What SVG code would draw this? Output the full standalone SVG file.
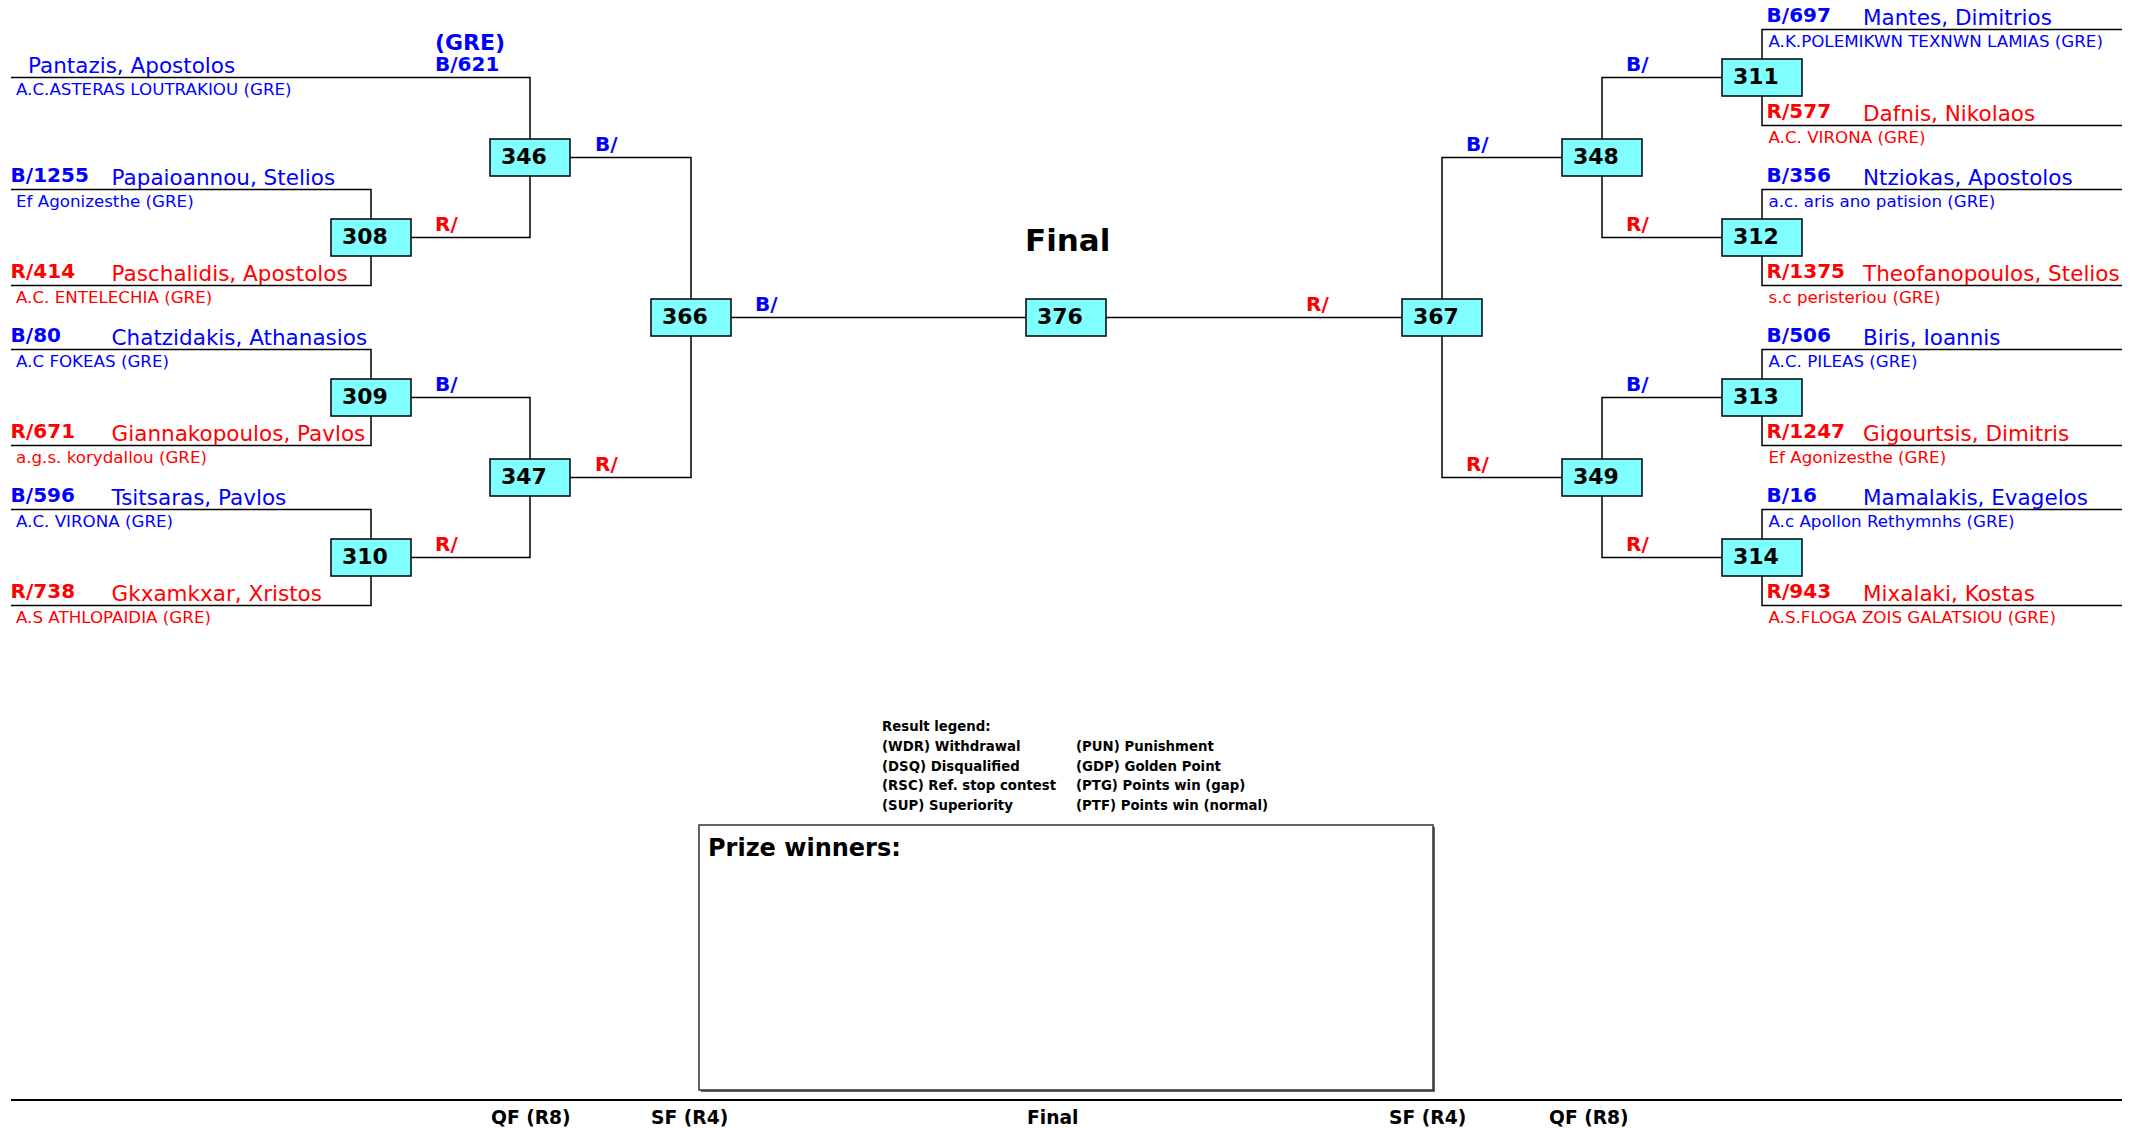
<svg xmlns="http://www.w3.org/2000/svg" width="2138" height="1128" viewBox="0 0 2138 1128">
<style>
text{font-family:"DejaVu Sans",Verdana,sans-serif}
.box{fill:#80FFFF;stroke:#000;stroke-width:1.5}
.num{font-size:22px;font-weight:bold;fill:#000}
.ln{fill:none;stroke:#000;stroke-width:1.5}
.lb{font-size:20px;font-weight:bold}
.nm{font-size:21.5px}
.cl{font-size:16.7px}
.b{fill:#0000FF}
.r{fill:#FF0000}
.lg{font-size:13.3px;font-weight:bold;fill:#000}
.ft{font-size:18.7px;font-weight:bold;fill:#000}
</style>
<rect width="2138" height="1128" fill="#fff"/>
<g id="connectors">
<path class="ln" d="M11,77.5H530V139"/>
<path class="ln" d="M11,189.5H371V219M11,285.5H371V256"/>
<path class="ln" d="M11,349.5H371V379M11,445.5H371V416"/>
<path class="ln" d="M11,509.5H371V539M11,605.5H371V576"/>
<path class="ln" d="M411,237.5H530V176M411,397.5H530V459M411,557.5H530V496"/>
<path class="ln" d="M570,157.5H691V299M570,477.5H691V336"/>
<path class="ln" d="M731,317.5H1026M1106,317.5H1402"/>
<path class="ln" d="M1562,157.5H1442V299M1562,477.5H1442V336"/>
<path class="ln" d="M1722,77.5H1602V139M1722,237.5H1602V176M1722,397.5H1602V459M1722,557.5H1602V496"/>
<path class="ln" d="M2122,29.5H1762V59M2122,125.5H1762V96"/>
<path class="ln" d="M2122,189.5H1762V219M2122,285.5H1762V256"/>
<path class="ln" d="M2122,349.5H1762V379M2122,445.5H1762V416"/>
<path class="ln" d="M2122,509.5H1762V539M2122,605.5H1762V576"/>
<text class="lb b" x="595" y="151">B/</text>
<text class="lb r" x="435" y="231">R/</text>
<text class="lb b" x="435" y="391">B/</text>
<text class="lb r" x="435" y="551">R/</text>
<text class="lb r" x="595" y="471">R/</text>
<text class="lb b" x="755" y="311">B/</text>
<text class="lb r" x="1306" y="311">R/</text>
<text class="lb b" x="1466" y="151">B/</text>
<text class="lb r" x="1466" y="471">R/</text>
<text class="lb b" x="1626" y="71">B/</text>
<text class="lb r" x="1626" y="231">R/</text>
<text class="lb b" x="1626" y="391">B/</text>
<text class="lb r" x="1626" y="551">R/</text>
</g>
<g id="n346"><rect class="box" x="490" y="139" width="80" height="37"/><text class="num" x="501" y="164">346</text></g>
<g id="n347"><rect class="box" x="490" y="459" width="80" height="37"/><text class="num" x="501" y="484">347</text></g>
<g id="n308"><rect class="box" x="331" y="219" width="80" height="37"/><text class="num" x="342" y="244">308</text></g>
<g id="n309"><rect class="box" x="331" y="379" width="80" height="37"/><text class="num" x="342" y="404">309</text></g>
<g id="n310"><rect class="box" x="331" y="539" width="80" height="37"/><text class="num" x="342" y="564">310</text></g>
<g id="n366"><rect class="box" x="651" y="299" width="80" height="37"/><text class="num" x="662" y="324">366</text></g>
<g id="n376"><rect class="box" x="1026" y="299" width="80" height="37"/><text class="num" x="1037" y="324">376</text></g>
<g id="n367"><rect class="box" x="1402" y="299" width="80" height="37"/><text class="num" x="1413" y="324">367</text></g>
<g id="n348"><rect class="box" x="1562" y="139" width="80" height="37"/><text class="num" x="1573" y="164">348</text></g>
<g id="n349"><rect class="box" x="1562" y="459" width="80" height="37"/><text class="num" x="1573" y="484">349</text></g>
<g id="n311"><rect class="box" x="1722" y="59" width="80" height="37"/><text class="num" x="1733" y="84">311</text></g>
<g id="n312"><rect class="box" x="1722" y="219" width="80" height="37"/><text class="num" x="1733" y="244">312</text></g>
<g id="n313"><rect class="box" x="1722" y="379" width="80" height="37"/><text class="num" x="1733" y="404">313</text></g>
<g id="n314"><rect class="box" x="1722" y="539" width="80" height="37"/><text class="num" x="1733" y="564">314</text></g>
<g id="competitors-left">
<text class="lb b" x="435" y="50" style="font-size:22px">(GRE)</text>
<text class="lb b" x="435" y="70.5">B/621</text>
<text class="nm b" x="28" y="73">Pantazis, Apostolos</text>
<text class="cl b" x="16" y="95">A.C.ASTERAS LOUTRAKIOU (GRE)</text>
<text class="lb b" x="10.6" y="182">B/1255</text>
<text class="nm b" x="111.6" y="185">Papaioannou, Stelios</text>
<text class="cl b" x="16" y="207">Ef Agonizesthe (GRE)</text>
<text class="lb r" x="10.6" y="278">R/414</text>
<text class="nm r" x="111.6" y="281">Paschalidis, Apostolos</text>
<text class="cl r" x="16" y="303">A.C. ENTELECHIA (GRE)</text>
<text class="lb b" x="10.6" y="342">B/80</text>
<text class="nm b" x="111.6" y="345">Chatzidakis, Athanasios</text>
<text class="cl b" x="16" y="367">A.C FOKEAS (GRE)</text>
<text class="lb r" x="10.6" y="438">R/671</text>
<text class="nm r" x="111.6" y="441">Giannakopoulos, Pavlos</text>
<text class="cl r" x="16" y="463">a.g.s. korydallou (GRE)</text>
<text class="lb b" x="10.6" y="502">B/596</text>
<text class="nm b" x="111.6" y="505">Tsitsaras, Pavlos</text>
<text class="cl b" x="16" y="527">A.C. VIRONA (GRE)</text>
<text class="lb r" x="10.6" y="598">R/738</text>
<text class="nm r" x="111.6" y="601">Gkxamkxar, Xristos</text>
<text class="cl r" x="16" y="623">A.S ATHLOPAIDIA (GRE)</text>
</g>
<g id="competitors-right">
<text class="lb b" x="1766.6" y="22">B/697</text>
<text class="nm b" x="1863" y="25">Mantes, Dimitrios</text>
<text class="cl b" x="1768.5" y="47">A.K.POLEMIKWN TEXNWN LAMIAS (GRE)</text>
<text class="lb r" x="1766.6" y="118">R/577</text>
<text class="nm r" x="1863" y="121">Dafnis, Nikolaos</text>
<text class="cl r" x="1768.5" y="143">A.C. VIRONA (GRE)</text>
<text class="lb b" x="1766.6" y="182">B/356</text>
<text class="nm b" x="1863" y="185">Ntziokas, Apostolos</text>
<text class="cl b" x="1768.5" y="207">a.c. aris ano patision (GRE)</text>
<text class="lb r" x="1766.6" y="278">R/1375</text>
<text class="nm r" x="1863" y="281">Theofanopoulos, Stelios</text>
<text class="cl r" x="1768.5" y="303">s.c peristeriou (GRE)</text>
<text class="lb b" x="1766.6" y="342">B/506</text>
<text class="nm b" x="1863" y="345">Biris, Ioannis</text>
<text class="cl b" x="1768.5" y="367">A.C. PILEAS (GRE)</text>
<text class="lb r" x="1766.6" y="438">R/1247</text>
<text class="nm r" x="1863" y="441">Gigourtsis, Dimitris</text>
<text class="cl r" x="1768.5" y="463">Ef Agonizesthe (GRE)</text>
<text class="lb b" x="1766.6" y="502">B/16</text>
<text class="nm b" x="1863" y="505">Mamalakis, Evagelos</text>
<text class="cl b" x="1768.5" y="527">A.c Apollon Rethymnhs (GRE)</text>
<text class="lb r" x="1766.6" y="598">R/943</text>
<text class="nm r" x="1863" y="601">Mixalaki, Kostas</text>
<text class="cl r" x="1768.5" y="623">A.S.FLOGA ZOIS GALATSIOU (GRE)</text>
</g>
<text x="1025" y="251" style="font-size:31px;font-weight:bold" fill="#000">Final</text>
<g id="legend">
<text class="lg" x="882" y="731">Result legend:</text>
<text class="lg" x="882" y="751">(WDR) Withdrawal</text>
<text class="lg" x="882" y="771">(DSQ) Disqualified</text>
<text class="lg" x="882" y="790">(RSC) Ref. stop contest</text>
<text class="lg" x="882" y="810">(SUP) Superiority</text>
<text class="lg" x="1076" y="751">(PUN) Punishment</text>
<text class="lg" x="1076" y="771">(GDP) Golden Point</text>
<text class="lg" x="1076" y="790">(PTG) Points win (gap)</text>
<text class="lg" x="1076" y="810">(PTF) Points win (normal)</text>
</g>
<g id="prize">
<rect x="701" y="827" width="734" height="265" fill="#666"/>
<rect x="699" y="825" width="734" height="265" fill="#fff" stroke="#333" stroke-width="1.5"/>
<text x="708" y="856" style="font-size:24px;font-weight:bold" fill="#000">Prize winners:</text>
</g>
<g id="footer">
<line x1="11" y1="1100" x2="2122" y2="1100" stroke="#000" stroke-width="2"/>
<text class="ft" x="491" y="1124">QF (R8)</text>
<text class="ft" x="651" y="1124">SF (R4)</text>
<text class="ft" x="1027" y="1124">Final</text>
<text class="ft" x="1389" y="1124">SF (R4)</text>
<text class="ft" x="1549" y="1124">QF (R8)</text>
</g>
</svg>
